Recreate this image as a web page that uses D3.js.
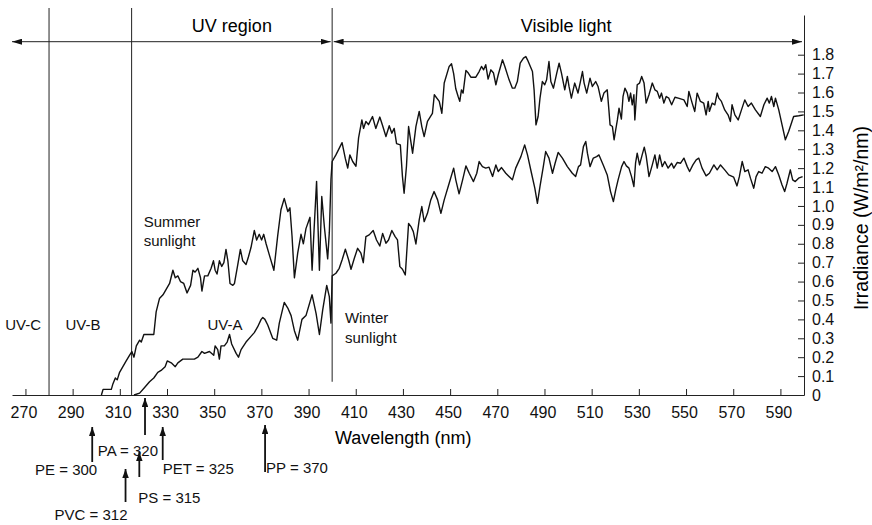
<!DOCTYPE html>
<html>
<head>
<meta charset="utf-8">
<script src="https://cdn.jsdelivr.net/npm/d3@7"></script>
<style>
  body { margin: 0; background: #fff; }
  svg { display: block; font-family: "Liberation Sans", Arial, sans-serif; }
  .curve { fill: none; stroke: #111; stroke-width: 1.4; stroke-linejoin: round; }
  .rule { stroke: #222; stroke-width: 1; }
  .axis path, .axis line { stroke: #222; stroke-width: 1; }
  .axis text { font-size: 16px; fill: #111; }
  .lbl { font-size: 15px; fill: #111; }
</style>
</head>
<body>
<svg id="svg"></svg>
<script>

// wavelength (nm), irradiance (W/m2/nm)
var summer = [
 [302.2,0],[302.9,0.03],[306.4,0.03],[307.1,0.06],[308.1,0.09],[308.9,0.08],[309.9,0.12],[311.3,0.15],
 [312.7,0.18],[314.1,0.21],[315.1,0.23],[316.0,0.20],[317.0,0.26],[318.4,0.29],[319.1,0.28],[320.2,0.32],
 [324.4,0.32],[325.4,0.44],[326.8,0.51],[328.3,0.53],[329.7,0.56],[331.1,0.59],[332.5,0.66],[333.5,0.62],
 [334.6,0.63],[335.7,0.60],[337.1,0.59],[338.5,0.54],[340.0,0.58],[341.0,0.66],[341.9,0.65],[343.1,0.67],
 [344.2,0.62],[344.8,0.55],[345.9,0.63],[347.3,0.63],[348.7,0.67],[349.7,0.71],[350.4,0.66],[351.2,0.64],
 [352.2,0.71],[353.2,0.68],[354.1,0.70],[355.0,0.77],[355.8,0.71],[356.7,0.59],[357.9,0.58],[358.6,0.59],
 [360.0,0.69],[361.1,0.77],[362.1,0.71],[363.5,0.69],[364.5,0.73],[365.6,0.78],[367.0,0.87],[368.0,0.82],
 [369.1,0.85],[370.1,0.82],[371.0,0.85],[372.0,0.80],[373.4,0.74],[375.3,0.66],[376.9,0.84],[378.3,0.98],
 [379.7,1.04],[381.2,0.97],[382.1,0.99],[383.0,0.84],[384.0,0.62],[385.4,0.75],[386.8,0.85],[387.8,0.80],
 [388.9,0.88],[390.6,0.94],[391.5,0.66],[392.4,0.89],[393.4,1.13],[394.6,0.66],[395.6,1.05],[396.7,0.89],
 [398.1,0.72],[398.8,0.86],[399.5,1.14],[400.0,1.235],
 [401.6,1.27],[404.2,1.335],[405.6,1.25],[406.6,1.20],[407.5,1.27],[408.7,1.235],[410.1,1.21],[411.2,1.36],
 [412.6,1.455],[413.3,1.41],[414.3,1.447],[415.4,1.43],[417.1,1.473],[418.5,1.41],[420.2,1.47],[421.4,1.424],
 [422.8,1.367],[424.2,1.424],[425.3,1.385],[426.3,1.41],[427.3,1.33],[428.9,1.323],[429.8,1.155],[430.5,1.067],
 [431.5,1.21],[432.4,1.42],[434.1,1.279],[435.5,1.42],[436.9,1.50],[438.0,1.42],[439.0,1.367],[440.4,1.447],
 [442.5,1.49],[443.3,1.588],[445.4,1.553],[446.5,1.49],[447.5,1.65],[449.6,1.738],[450.6,1.752],[451.5,1.70],
 [452.4,1.62],[453.4,1.579],[454.1,1.553],[454.8,1.614],[455.5,1.597],[456.7,1.717],[457.7,1.703],[458.8,1.681],
 [460.9,1.681],[462.3,1.711],[463.3,1.738],[464.2,1.72],[465.1,1.747],[466.1,1.671],[467.3,1.72],[468.4,1.703],
 [469.4,1.641],[470.4,1.694],[472.2,1.773],[473.2,1.738],[475.0,1.667],[476.4,1.623],[477.4,1.623],[478.5,1.658],
 [479.7,1.755],[481.1,1.782],[482.1,1.79],[482.8,1.773],[484.9,1.711],[485.6,1.614],[486.4,1.429],[487.3,1.473],
 [488.1,1.57],[489.1,1.658],[490.1,1.641],[490.9,1.667],[491.9,1.764],[492.7,1.658],[493.8,1.623],[495.2,1.703],
 [496.2,1.755],[497.2,1.703],[498.6,1.614],[499.7,1.685],[500.4,1.632],[501.4,1.57],[502.8,1.65],[504.2,1.597],
 [505.1,1.65],[506.1,1.711],[506.8,1.65],[507.9,1.597],[509.3,1.676],[510.3,1.632],[511.7,1.658],[512.7,1.632],
 [514.1,1.553],[515.2,1.597],[516.6,1.614],[517.3,1.508],[517.8,1.429],[518.8,1.42],[519.5,1.35],[520.2,1.403],
 [520.9,1.455],[521.6,1.517],[522.6,1.46],[523.3,1.58],[524.1,1.623],[525.1,1.597],[525.8,1.553],[526.5,1.597],
 [527.2,1.535],[527.9,1.588],[528.3,1.455],[529.3,1.641],[530.3,1.65],[531.2,1.685],[532.2,1.65],[533.1,1.544],
 [534.3,1.588],[535.7,1.65],[536.8,1.614],[537.8,1.606],[538.8,1.57],[539.6,1.597],[540.6,1.544],[541.6,1.579],
 [542.7,1.57],[543.9,1.535],[545.3,1.575],[546.7,1.57],[549.1,1.561],[550.5,1.526],[551.2,1.606],[552.6,1.544],
 [553.7,1.50],[554.7,1.597],[556.1,1.553],[557.5,1.544],[558.5,1.482],[559.4,1.553],[559.9,1.50],[561.1,1.544],
 [562.2,1.535],[563.2,1.597],[563.9,1.57],[565.0,1.553],[566.4,1.508],[567.8,1.482],[568.8,1.447],[569.5,1.535],
 [570.7,1.482],[572.1,1.455],[573.5,1.508],[574.9,1.561],[576.3,1.526],[577.7,1.544],[579.4,1.508],[581.5,1.473],
 [583.0,1.535],[584.4,1.57],[585.3,1.544],[586.2,1.579],[587.2,1.526],[587.9,1.57],[589.3,1.508],[590.7,1.429],
 [592.1,1.35],[593.5,1.394],[594.9,1.447],[595.6,1.473],[597.8,1.477],[599.9,1.482]
];

var winter = [
 [316.0,0],[318.4,0.01],[320.5,0.04],[322.6,0.07],[324.4,0.09],[326.1,0.12],[327.5,0.13],[329.2,0.15],
 [330.1,0.18],[331.8,0.17],[333.5,0.15],[334.6,0.17],[336.7,0.19],[338.8,0.19],[341.6,0.19],[343.1,0.20],
 [344.8,0.23],[345.9,0.22],[348.0,0.23],[349.8,0.21],[350.4,0.26],[351.5,0.24],[352.2,0.19],[352.9,0.26],
 [354.3,0.26],[355.5,0.28],[356.5,0.32],[357.4,0.27],[359.3,0.22],[360.3,0.20],[361.4,0.24],[363.5,0.28],
 [365.6,0.31],[367.0,0.33],[368.4,0.36],[369.9,0.40],[370.6,0.41],[371.5,0.40],[372.7,0.37],[374.8,0.30],
 [376.5,0.29],[377.6,0.38],[379.7,0.49],[381.2,0.46],[382.6,0.42],[384.0,0.34],[385.4,0.29],[387.2,0.40],
 [388.9,0.42],[391.5,0.53],[393.2,0.43],[394.6,0.32],[396.0,0.45],[397.7,0.58],[398.8,0.52],[399.5,0.38],
 [400.0,0.63],
 [401.6,0.644],[403.0,0.67],[404.2,0.714],[405.6,0.771],[407.0,0.714],[408.0,0.665],[409.4,0.723],[410.8,0.776],
 [412.2,0.75],[413.2,0.70],[414.3,0.838],[415.7,0.847],[417.4,0.87],[418.8,0.82],[420.2,0.788],[421.4,0.855],
 [422.8,0.803],[423.9,0.82],[425.3,0.87],[426.7,0.838],[427.7,0.82],[428.7,0.679],[429.8,0.665],[431.0,0.635],
 [432.4,0.908],[433.4,0.891],[434.4,0.864],[435.5,0.799],[436.9,0.926],[438.0,0.997],[439.0,0.917],[440.4,0.961],
 [441.8,1.032],[443.2,1.076],[444.7,1.032],[446.1,0.961],[447.5,1.032],[449.6,1.12],[451.5,1.20],[452.4,1.138],
 [453.8,1.064],[455.3,1.138],[456.7,1.212],[458.1,1.173],[459.9,1.129],[461.3,1.173],[462.3,1.235],[463.7,1.208],
 [465.1,1.20],[466.5,1.205],[468.0,1.156],[469.4,1.217],[470.4,1.182],[471.8,1.203],[473.6,1.173],[476.4,1.138],
 [477.8,1.20],[480.0,1.261],[481.6,1.323],[482.8,1.27],[484.5,1.173],[485.9,1.094],[487.0,1.014],[488.1,1.103],
 [489.5,1.208],[490.5,1.288],[491.9,1.253],[493.4,1.173],[494.5,1.226],[495.8,1.283],[497.6,1.253],[499.7,1.208],
 [501.8,1.173],[503.2,1.156],[504.4,1.208],[505.3,1.217],[506.5,1.314],[507.5,1.341],[508.2,1.279],[509.3,1.208],
 [510.7,1.253],[512.1,1.261],[513.1,1.27],[514.9,1.217],[516.6,1.164],[518.0,1.076],[519.2,1.023],[520.2,1.085],
 [521.2,1.138],[522.7,1.208],[523.7,1.235],[524.7,1.212],[525.8,1.20],[526.9,1.155],[527.9,1.103],[528.6,1.226],
 [529.3,1.279],[530.3,1.217],[531.4,1.27],[532.3,1.311],[533.1,1.265],[534.3,1.155],[535.7,1.217],[536.8,1.27],
 [537.8,1.20],[538.8,1.27],[539.9,1.208],[541.0,1.235],[542.4,1.20],[543.9,1.226],[544.8,1.20],[546.3,1.23],
 [547.7,1.226],[549.1,1.253],[550.5,1.208],[551.5,1.182],[552.9,1.217],[554.3,1.244],[555.4,1.253],[556.8,1.20],
 [558.5,1.159],[559.9,1.173],[561.8,1.217],[563.2,1.191],[564.6,1.217],[566.4,1.191],[568.1,1.164],[570.2,1.152],
 [571.6,1.106],[572.6,1.155],[573.8,1.235],[574.9,1.182],[576.3,1.191],[577.3,1.147],[578.7,1.094],[579.7,1.155],
 [580.8,1.182],[582.2,1.173],[583.6,1.208],[585.0,1.20],[586.5,1.182],[587.9,1.208],[589.3,1.164],[590.7,1.111],
 [591.8,1.076],[592.8,1.12],[594.2,1.191],[595.2,1.138],[596.3,1.129],[597.7,1.147],[599.4,1.155]
];

var xTicks = [270, 290, 310, 330, 350, 370, 390, 410, 430, 450, 470, 490, 510, 530, 550, 570, 590];
var yTicks = [0, 0.1, 0.2, 0.3, 0.4, 0.5, 0.6, 0.7, 0.8, 0.9, 1.0, 1.1, 1.2, 1.3, 1.4, 1.5, 1.6, 1.7, 1.8];

var bounds = [280, 315, 400];
var bands = ["UV-C", "UV-B", "UV-A"];
var bandAt = [269, 294.4, 354.6];

var polymers = ["PE", "PVC", "PS", "PA", "PET", "PP"];
var sensitivity = [300, 312, 315, 320, 325, 370];

// drawing

var W = 872, H = 525;
svg = d3.select("#svg").attr("width", W).attr("height", H);

var x = d3.scaleLinear().domain([264.3, 600]).range([12, 804]);
var y = d3.scaleLinear().domain([0, 2.01]).range([395, 15]);

var defs = svg.append("defs");
function marker(id, len, wid){
  defs.append("marker").attr("id", id)
      .attr("viewBox", "0 0 10 10").attr("refX", 10).attr("refY", 5)
      .attr("markerUnits", "userSpaceOnUse")
      .attr("markerWidth", len).attr("markerHeight", wid)
      .attr("preserveAspectRatio", "none")
      .attr("orient", "auto-start-reverse")
    .append("path").attr("d", "M0,0 L10,5 L0,10 z").attr("fill", "#111");
}
marker("head", 10, 6);
marker("tip", 9, 6.5);

// region boundaries
svg.selectAll(".rule").data(bounds).enter()
   .append("line").attr("class", "rule")
   .attr("x1", d => x(d)).attr("x2", d => x(d))
   .attr("y1", 8)
   .attr("y2", d => d == 400 ? y(0.07) : y(0));

// header arrows
var hy = 41.7;
svg.append("line").attr("class", "rule")
   .attr("x1", x(400) - 1.5).attr("x2", x(264.3)).attr("y1", hy).attr("y2", hy)
   .attr("marker-start", "url(#head)").attr("marker-end", "url(#head)");
svg.append("line").attr("class", "rule")
   .attr("x1", x(400) + 1.5).attr("x2", x(600) - 2).attr("y1", hy).attr("y2", hy)
   .attr("marker-start", "url(#head)").attr("marker-end", "url(#head)");

svg.append("text").attr("x", (x(315) + x(400)) / 2).attr("y", 31.5)
   .attr("text-anchor", "middle").attr("font-size", 18).text("UV region");
svg.append("text").attr("x", (x(400) + x(600)) / 2 - 2).attr("y", 31.5)
   .attr("text-anchor", "middle").attr("font-size", 18).text("Visible light");

// axes
var xAxis = svg.append("g").attr("class", "axis")
   .attr("transform", "translate(0," + y(0) + ")")
   .call(d3.axisBottom(x).tickValues(xTicks).tickSize(-6).tickSizeOuter(0).tickPadding(12).tickFormat(d3.format("d")));
xAxis.selectAll("text").attr("dx", -2);

svg.append("g").attr("class", "axis")
   .attr("transform", "translate(" + x(600) + ",0)")
   .call(d3.axisRight(y).tickValues(yTicks).tickSize(-6).tickSizeOuter(0).tickPadding(8)
          .tickFormat(d => d === 0 ? "0" : d3.format(".1f")(d)));

svg.append("text").attr("x", 335).attr("y", 444).attr("font-size", 18).text("Wavelength (nm)");
svg.append("text").attr("transform", "translate(868,218) rotate(-90)")
   .attr("text-anchor", "middle").attr("font-size", 19.5).text("Irradiance (W/m\u00b2/nm)");

// curves
var line = d3.line().x(d => x(d[0])).y(d => y(d[1]));
svg.append("path").attr("class", "curve").attr("d", line(summer));
svg.append("path").attr("class", "curve").attr("d", line(winter));

// labels
svg.selectAll(".band").data(bands).enter()
   .append("text").attr("class", "lbl band")
   .attr("x", (d, i) => x(bandAt[i])).attr("y", y(0.344))
   .attr("text-anchor", "middle").text(d => d);

var summerLbl = svg.append("text").attr("class", "lbl").attr("x", x(320.1)).attr("y", y(0.89));
summerLbl.append("tspan").text("Summer");
summerLbl.append("tspan").attr("x", x(320.1)).attr("dy", 19.5).text("sunlight");

var winterLbl = svg.append("text").attr("class", "lbl").attr("x", x(405.4)).attr("y", y(0.38));
winterLbl.append("tspan").text("Winter");
winterLbl.append("tspan").attr("x", x(405.4)).attr("dy", 19.5).text("sunlight");

// polymer sensitivity arrows (layout only: nudge, arrow top/bottom, label anchor/offset/baseline)
var annot = {
  PE:  {nudge: -4,  top: 427, bot: 462, anchor: "end",   dx: 5,  ly: 475},
  PVC: {nudge: 1,   top: 469, bot: 502, anchor: "end",   dx: 2,  ly: 520},
  PS:  {nudge: 7.7, top: 452, bot: 477, anchor: "start", dx: -1, ly: 503},
  PA:  {nudge: 1.6, top: 398, bot: 435, anchor: "end",   dx: 13, ly: 455.5},
  PET: {nudge: 7.5, top: 427, bot: 460, anchor: "start", dx: 0,  ly: 474},
  PP:  {nudge: 3.7, top: 425, bot: 472, anchor: "start", dx: 1,  ly: 473}
};

var ann = svg.selectAll(".ann").data(polymers).enter().append("g").attr("class", "ann");
ann.append("line")
   .attr("x1", (d, i) => x(sensitivity[i]) + annot[d].nudge)
   .attr("x2", (d, i) => x(sensitivity[i]) + annot[d].nudge)
   .attr("y1", d => annot[d].bot).attr("y2", d => annot[d].top)
   .attr("stroke", "#111").attr("stroke-width", 1.8)
   .attr("marker-end", "url(#tip)");
ann.append("text").attr("class", "lbl")
   .attr("x", (d, i) => x(sensitivity[i]) + annot[d].nudge + annot[d].dx)
   .attr("y", d => annot[d].ly)
   .attr("text-anchor", d => annot[d].anchor)
   .text((d, i) => d + " = " + sensitivity[i]);

</script>
</body>
</html>
